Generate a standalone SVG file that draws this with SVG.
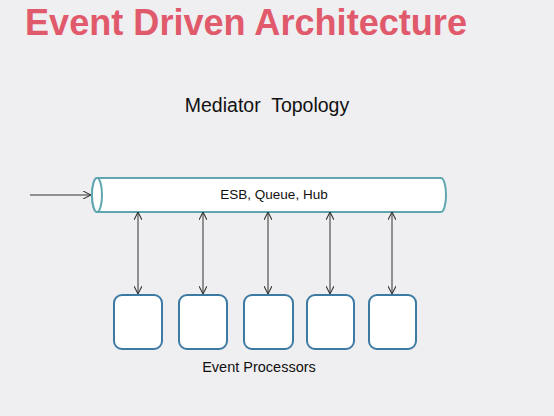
<svg xmlns="http://www.w3.org/2000/svg" width="554" height="416" viewBox="0 0 554 416">
<style>
.title{font-family:"Liberation Sans",Arial,sans-serif;font-weight:bold;font-size:37px;fill:#e05a6c}
.lbl{font-family:"Liberation Sans",Arial,sans-serif;fill:#111}
.box{fill:#fff;stroke:#3d7aa3;stroke-width:2}
.cyl{fill:#fff;stroke:#5ea7b0;stroke-width:2}
.conn{stroke:#333;stroke-width:1;fill:none}
</style>
<defs>
<marker id="ah" viewBox="0 0 10 10" refX="10" refY="5" markerWidth="8" markerHeight="8" markerUnits="userSpaceOnUse" orient="auto-start-reverse">
<path d="M0,0 L10,5 L0,10" fill="none" stroke="#333" stroke-width="1.3"/>
</marker>
</defs>
<rect width="554" height="416" fill="#efeef0"/>
<text class="title" x="25" y="34.5" textLength="442" lengthAdjust="spacingAndGlyphs">Event Driven Architecture</text>
<text class="lbl" x="267" y="111.5" font-size="19.5" text-anchor="middle" xml:space="preserve">Mediator  Topology</text>
<g id="bus">
<path class="cyl" d="M97,178 L441,178 A5,17 0 0 1 441,212 L97,212 A5,17 0 0 1 97,178 Z"/>
<ellipse class="cyl" cx="97" cy="195" rx="5" ry="17"/>
<text class="lbl" x="274" y="198.5" font-size="13.5" text-anchor="middle">ESB, Queue, Hub</text>
</g>
<g id="p1"><rect class="box" x="114" y="295" width="48" height="54" rx="8"/></g>
<g id="p2"><rect class="box" x="179" y="295" width="48" height="54" rx="8"/></g>
<g id="p3"><rect class="box" x="244" y="295" width="49" height="54" rx="8"/></g>
<g id="p4"><rect class="box" x="307" y="295" width="47" height="54" rx="8"/></g>
<g id="p5"><rect class="box" x="369" y="295" width="47" height="54" rx="8"/></g>
<text class="lbl" x="259" y="371.5" font-size="14.5" text-anchor="middle">Event Processors</text>
<g id="connectors">
<line class="conn" x1="30" y1="195" x2="91" y2="195" marker-end="url(#ah)"/>
<line class="conn" x1="138" y1="212" x2="138" y2="294" marker-start="url(#ah)" marker-end="url(#ah)"/>
<line class="conn" x1="203" y1="212" x2="203" y2="294" marker-start="url(#ah)" marker-end="url(#ah)"/>
<line class="conn" x1="268" y1="212" x2="268" y2="294" marker-start="url(#ah)" marker-end="url(#ah)"/>
<line class="conn" x1="330" y1="212" x2="330" y2="294" marker-start="url(#ah)" marker-end="url(#ah)"/>
<line class="conn" x1="392" y1="212" x2="392" y2="294" marker-start="url(#ah)" marker-end="url(#ah)"/>
</g>
</svg>
